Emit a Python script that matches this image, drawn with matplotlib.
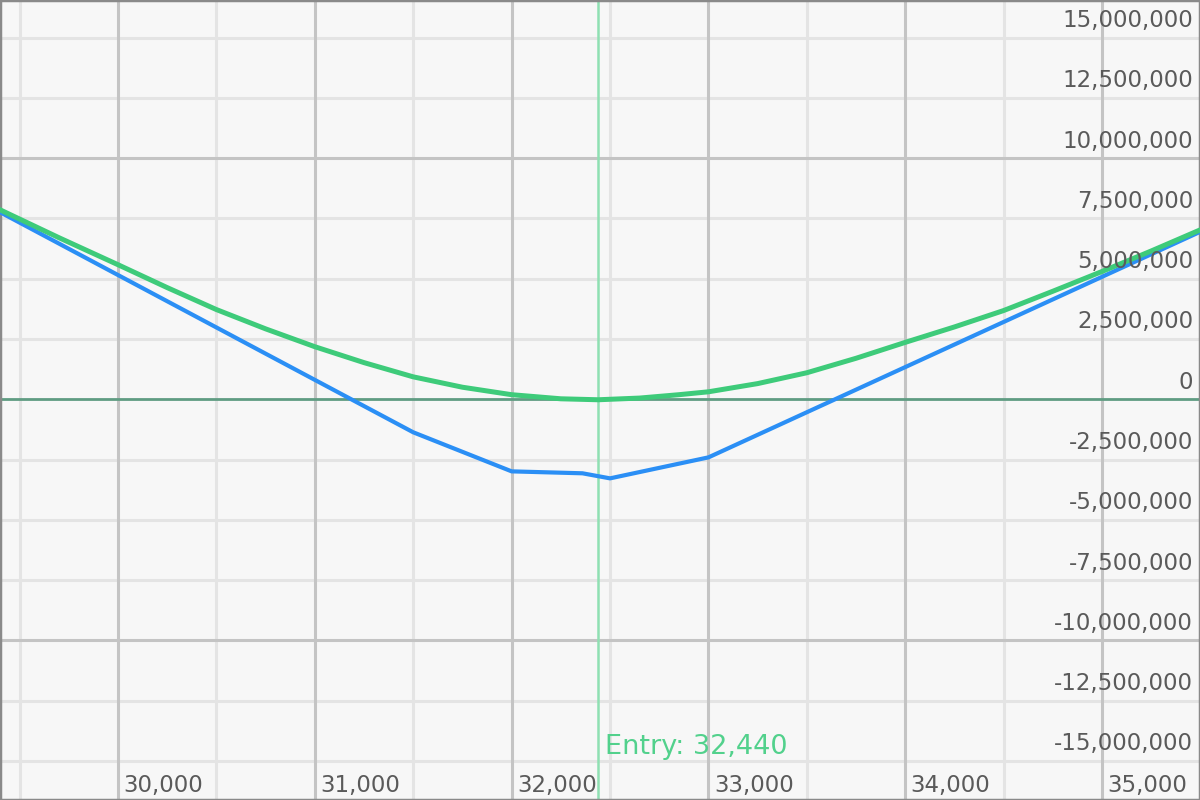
import matplotlib
matplotlib.use('Agg')
import matplotlib.pyplot as plt
import numpy as np

# payoff at expiry (blue) and T+0 curve (green), values in millions
expiry_x = [29400, 31500, 32000, 32360, 32500, 33000, 35500]
expiry_y = [7.76, -1.37, -2.99, -3.07, -3.28, -2.41, 6.95]

today_x = [29400, 29700, 30000, 30250, 30500, 30750, 31000, 31250, 31500,
           31750, 32000, 32250, 32440, 32650, 32850, 33000, 33250, 33500,
           33750, 34000, 34250, 34500, 34750, 35000, 35250, 35500]
today_y = [7.86, 6.70, 5.58, 4.63, 3.72, 2.92, 2.18, 1.52, 0.93,
           0.50, 0.19, 0.02, -0.02, 0.05, 0.19, 0.31, 0.65, 1.10,
           1.70, 2.36, 3.00, 3.68, 4.48, 5.30, 6.15, 7.03]

entry = 32440
x_major = [30000, 31000, 32000, 33000, 34000, 35000]
x_minor = [29500, 30500, 31500, 32500, 33500, 34500]
y_ticks = [15, 12.5, 10, 7.5, 5, 2.5, 0, -2.5, -5, -7.5, -10, -12.5, -15]
y_major = [-10, 10]

BG = '#f7f7f7'
MAJOR = '#c4c4c4'
MINOR = '#e4e4e4'
BLUE = '#2b8ff5'
GREEN = '#3ecb7a'
TXT = '#5a5a5a'

fig = plt.figure(figsize=(12, 8), dpi=100)
ax = fig.add_axes([0, 0, 1, 1])
ax.set_facecolor(BG)
fig.patch.set_facecolor(BG)
ax.set_xlim(29400, 35498)
ax.set_ylim(-16.62, 16.56)

for x in x_minor:
    ax.axvline(x, color=MINOR, lw=2.2, zorder=1)
for y in y_ticks:
    if y != 0 and y not in y_major:
        ax.axhline(y, color=MINOR, lw=2.2, zorder=1)
for x in x_major:
    ax.axvline(x, color=MAJOR, lw=2.2, zorder=1.5)
for y in y_major:
    ax.axhline(y, color=MAJOR, lw=2.2, zorder=1.5)
ax.axhline(0, color='#5f9c82', lw=2.0, zorder=2)
ax.axvline(entry, color='#8fe0b2', lw=1.8, zorder=2)

ax.plot(expiry_x, expiry_y, color=BLUE, lw=3.0, zorder=4,
        solid_joinstyle='round')
ax.plot(today_x, today_y, color=GREEN, lw=3.6, zorder=5,
        solid_joinstyle='round')

for y in y_ticks:
    ax.annotate(f'{int(y * 1e6):,}', (1, y), xycoords=('axes fraction', 'data'),
                xytext=(-5, 4), textcoords='offset points',
                ha='right', va='bottom', fontsize=16.5, color=TXT, zorder=6)
for x in x_major:
    ax.annotate(f'{x:,}', (x, 0), xycoords=('data', 'axes fraction'),
                xytext=(4, 2), textcoords='offset points',
                ha='left', va='bottom', fontsize=16.5, color=TXT, zorder=6)

ax.annotate(f'Entry: {entry:,}', (entry, 0), xycoords=('data', 'axes fraction'),
            xytext=(5, 29), textcoords='offset points',
            ha='left', va='bottom', fontsize=19.5, color='#52d18c', zorder=6)

ax.set_xticks([])
ax.set_yticks([])
for s in ax.spines.values():
    s.set_color('#8a8a8a')
    s.set_linewidth(2.5)

fig.savefig('out.png', dpi=100, facecolor=BG)
